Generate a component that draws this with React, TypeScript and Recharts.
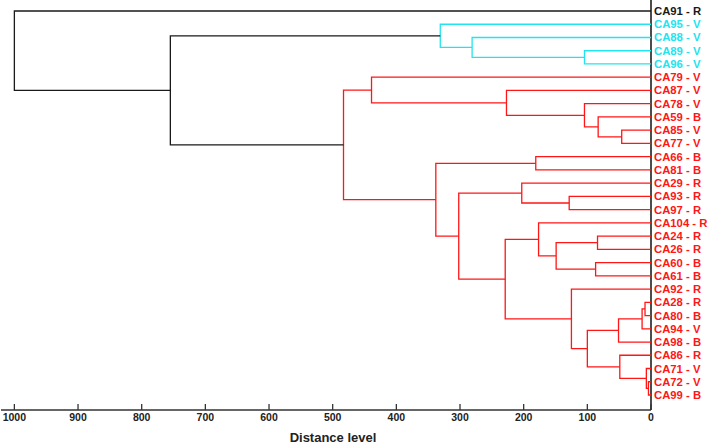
import { ScatterChart, Scatter, XAxis, YAxis } from "recharts";

// leaves, top to bottom
const leaves = [
  "CA91 - R", "CA95 - V", "CA88 - V", "CA89 - V", "CA96 - V",
  "CA79 - V", "CA87 - V", "CA78 - V", "CA59 - B", "CA85 - V",
  "CA77 - V", "CA66 - B", "CA81 - B", "CA29 - R", "CA93 - R",
  "CA97 - R", "CA104 - R", "CA24 - R", "CA26 - R", "CA60 - B",
  "CA61 - B", "CA92 - R", "CA28 - R", "CA80 - B", "CA94 - V",
  "CA98 - B", "CA86 - R", "CA71 - V", "CA72 - V", "CA99 - B",
];

// 0 = outlier, 1 = cyan group, 2 = red group
const leafCluster = [
  0, 1, 1, 1, 1, 2, 2, 2, 2, 2, 2, 2, 2, 2, 2,
  2, 2, 2, 2, 2, 2, 2, 2, 2, 2, 2, 2, 2, 2, 2,
];

// linkage: node ids 0..29 are leaves, merge k becomes node 30 + k
const mergeA = [28, 27, 22, 32, 9, 26, 33, 8, 17, 19, 36, 3, 7, 21, 14, 38, 16, 11, 13, 6, 46, 2, 48, 1, 47, 5, 55, 53, 0];
const mergeB = [29, 30, 23, 24, 10, 31, 25, 34, 18, 20, 35, 4, 37, 40, 15, 39, 45, 12, 44, 42, 43, 41, 50, 51, 52, 49, 54, 56, 57];
const mergeDist = [4, 7.3, 9.4, 14, 46, 49, 51, 83, 84, 87, 100, 104.5, 104.5, 125, 128.5, 149, 176.6, 181, 203, 227, 229, 281, 302, 331, 338, 439, 483, 755, 1000];

const distanceTicks = [0, 100, 200, 300, 400, 500, 600, 700, 800, 900, 1000];

const clusterColors = ["#1a1a1a", "#22e4f0", "#ff1616"];
const MIXED = "#1a1a1a";
const FONT = "'Liberation Sans', Arial, sans-serif";

// build elbow links from the linkage
const nodeY: number[] = leaves.map((_, i) => i);
const nodeH: number[] = leaves.map(() => 0);
const nodeC: number[] = [...leafCluster];
const links = mergeDist.map((h, k) => {
  const a = mergeA[k];
  const b = mergeB[k];
  const ya = nodeY[a];
  const yb = nodeY[b];
  const c = nodeC[a] === nodeC[b] ? nodeC[a] : -1;
  const pts = [
    { x: nodeH[a], y: ya },
    { x: h, y: ya },
    { x: h, y: yb },
    { x: nodeH[b], y: yb },
  ];
  nodeY.push((ya + yb) / 2);
  nodeH.push(h);
  nodeC.push(c);
  return { pts, color: c >= 0 ? clusterColors[c] : MIXED };
});

function LeafTick({ x, y, payload }: any) {
  const i = payload.value;
  return (
    <text
      x={x}
      y={y}
      dy={4}
      fill={clusterColors[leafCluster[i]]}
      fontSize={11.3}
      fontWeight="bold"
      fontFamily={FONT}
    >
      {leaves[i]}
    </text>
  );
}

function DistTick({ x, y, payload }: any) {
  return (
    <g>
      <line x1={x} x2={x} y1={y - 6} y2={y} stroke="#333" strokeWidth={1.3} />
      <text
        x={x}
        y={y + 11}
        textAnchor="middle"
        fontSize={10.5}
        fontWeight="bold"
        fontFamily={FONT}
        fill="#222"
      >
        {payload.value}
      </text>
    </g>
  );
}

const NoDot = () => <g />;

export default function App() {
  return (
    <div style={{ position: "absolute", left: 0, top: 0, background: "#fff" }}>
      <ScatterChart width={708} height={446} margin={{ top: 0, right: 0, bottom: 0, left: 1 }}>
        <XAxis
          type="number"
          dataKey="x"
          domain={[0, 1021]}
          reversed
          ticks={distanceTicks}
          interval={0}
          tickSize={0}
          tickMargin={0}
          tickLine={false}
          tick={<DistTick />}
          axisLine={{ stroke: "#333", strokeWidth: 1.5 }}
          height={36}
          label={{
            content: () => (
              <text
                x={333}
                y={442}
                textAnchor="middle"
                fontSize={13}
                fontWeight="bold"
                fontFamily={FONT}
                fill="#222"
              >
                Distance level
              </text>
            ),
          }}
        />
        <YAxis
          type="number"
          dataKey="y"
          orientation="right"
          domain={[-0.831, 30.133]}
          reversed
          ticks={leaves.map((_, i) => i)}
          interval={0}
          tickSize={0}
          tickMargin={3}
          tickLine={false}
          tick={<LeafTick />}
          axisLine={{ stroke: "#111", strokeWidth: 1.5 }}
          width={57}
        />
        {links.map((l, k) => (
          <Scatter
            key={k}
            data={l.pts}
            line={{ stroke: l.color, strokeWidth: 1.3 }}
            lineType="joint"
            shape={<NoDot />}
            isAnimationActive={false}
          />
        ))}
      </ScatterChart>
    </div>
  );
}
